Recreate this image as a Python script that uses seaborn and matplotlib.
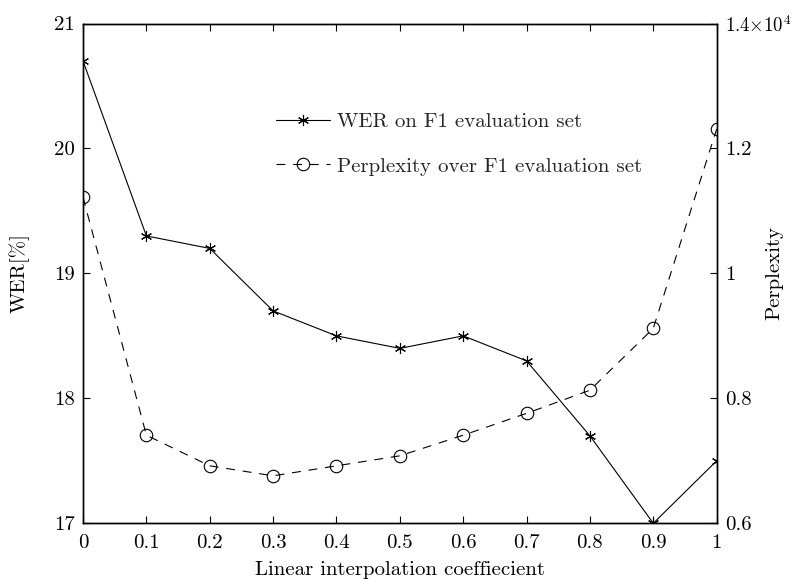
import matplotlib
matplotlib.use("Agg")
import matplotlib.pyplot as plt
import seaborn as sns
import pandas as pd
from matplotlib.ticker import FuncFormatter, FixedLocator

coef = [0.0, 0.1, 0.2, 0.3, 0.4, 0.5, 0.6, 0.7, 0.8, 0.9, 1.0]
wer = [20.7, 19.3, 19.2, 18.7, 18.5, 18.4, 18.5, 18.3, 17.7, 17.0, 17.5]
perplexity = [11220, 7410, 6920, 6760, 6920, 7080, 7410, 7760, 8130, 9120, 12310]
wer_label = "WER on F1 evaluation set"
ppl_label = "Perplexity over F1 evaluation set"
xlabel = "Linear interpolation coeffiecient"
ylabel_left = "WER[%]"
ylabel_right = "Perplexity"
x_ticks = [0, 0.1, 0.2, 0.3, 0.4, 0.5, 0.6, 0.7, 0.8, 0.9, 1]
wer_ticks = [17, 18, 19, 20, 21]
ppl_ticks = [6000, 8000, 10000, 12000, 14000]

sns.set_theme(style="white")
plt.rcParams["font.family"] = ["cmr10", "DejaVu Serif"]
plt.rcParams["mathtext.fontset"] = "cm"
plt.rcParams["axes.formatter.use_mathtext"] = True
plt.rcParams["axes.unicode_minus"] = False

df = pd.DataFrame({"coef": coef, "wer": wer, "ppl": perplexity})

fig = plt.figure(figsize=(7.96, 5.79), dpi=100)
ax = fig.add_axes([0.1043, 0.0962, 0.7960, 0.8632])
ax2 = ax.twinx()

FS = 15
sns.lineplot(data=df, x="coef", y="wer", ax=ax, color="black", linewidth=0.8,
             marker=(6, 2, 0), markersize=8, markeredgewidth=0.8,
             markeredgecolor="black", label=wer_label, legend=False)
sns.lineplot(data=df, x="coef", y="ppl", ax=ax2, color="black", linewidth=0.8,
             marker="o", markersize=9, markerfacecolor="none",
             markeredgewidth=0.8, markeredgecolor="black",
             label=ppl_label, legend=False)
for ln in ax2.get_lines():
    ln.set_linestyle((0, (8, 7)))

ax.set_xlim(0, 1)
ax.set_ylim(17, 21)
ax2.set_ylim(6000, 14000)
ax.xaxis.set_major_locator(FixedLocator(x_ticks))
ax.yaxis.set_major_locator(FixedLocator(wer_ticks))
ax2.yaxis.set_major_locator(FixedLocator(ppl_ticks))
ax.xaxis.set_major_formatter(FuncFormatter(lambda v, p: f"{v:g}"))
ax.yaxis.set_major_formatter(FuncFormatter(lambda v, p: f"{v:g}"))

def ppl_fmt(v, p):
    if abs(v - 14000) < 1:
        return r"$1.4{\times}10^{4}$"
    return f"{v/1e4:g}"
ax2.yaxis.set_major_formatter(FuncFormatter(ppl_fmt))

ax.tick_params(axis="x", direction="in", length=5, width=0.8, top=True,
               bottom=True, labelsize=FS, pad=8, colors="black")
ax.tick_params(axis="y", direction="in", length=5, width=0.8, left=True,
               right=False, labelsize=FS, pad=6, colors="black")
ax2.tick_params(axis="y", direction="in", length=5, width=0.8, right=True,
                left=False, labelsize=FS, pad=6, colors="black")
ax2.yaxis.get_major_ticks()[-1].label2.set_fontsize(13.5)

for a in (ax, ax2):
    for sp in a.spines.values():
        sp.set_color("black")
        sp.set_linewidth(1.0)
        sp.set_visible(True)

ax.set_xlabel(xlabel, fontsize=FS, color="black", labelpad=6)
ax.set_ylabel(ylabel_left, fontsize=FS, color="black")
ax2.set_ylabel(ylabel_right, fontsize=FS, color="black")
ax.yaxis.set_label_coords(-0.0836, 0.5)
ax2.yaxis.set_label_coords(1.076, 0.5)

handles = ax.get_lines()[:1] + ax2.get_lines()[:1]
labels = [wer_label, ppl_label]
ax2.legend(handles, labels, loc="upper left", bbox_to_anchor=(0.347, 0.806),
           bbox_transform=fig.transFigure, frameon=False, fontsize=FS,
           handlelength=2.6, handletextpad=0.3, labelspacing=1.25,
           numpoints=1, borderpad=0, borderaxespad=0)

fig.savefig("out.png", dpi=100, facecolor="white")
